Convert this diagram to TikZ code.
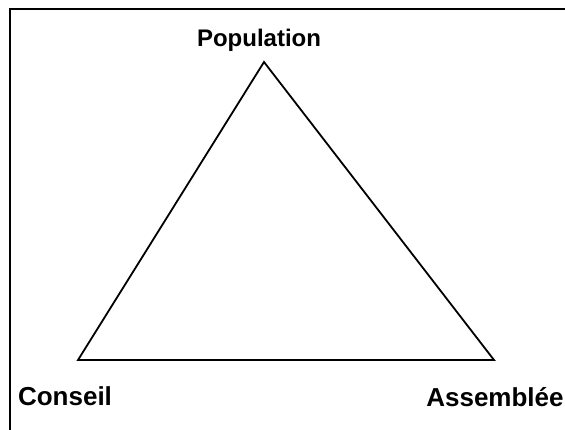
\documentclass[tikz,border=0pt]{standalone}
\usepackage{fontspec}
\setmainfont{Liberation Sans}
\usetikzlibrary{positioning}
\tikzset{
  frame/.style  = {draw=black, line width=2.2pt},
  edge/.style   = {draw=black, line width=1.8pt, line join=miter},
  corner/.style = {font=\bfseries\fontsize{26}{30}\selectfont, inner sep=0pt, anchor=base},
  top/.style    = {font=\bfseries\fontsize{24}{28}\selectfont, inner sep=0pt, anchor=base},
}
\begin{document}
\begin{tikzpicture}[x=1pt,y=-1pt]
\useasboundingbox (0,0) rectangle (565,429);
\clip (0,0) rectangle (565,429);
\draw[frame] (10,9) rectangle (620,480);

\coordinate (apex)  at (264,62);
\coordinate (left)  at (78,360);
\coordinate (right) at (494,360);
\draw[edge] (apex) -- (left) -- (right) -- cycle;

\node[top]    (population) at (259,46)  {Population};
\node[corner] (conseil)    at (65,405)  {Conseil};
\node[corner] (assemblee)  at (495,406) {Assemblée};
\end{tikzpicture}
\end{document}
